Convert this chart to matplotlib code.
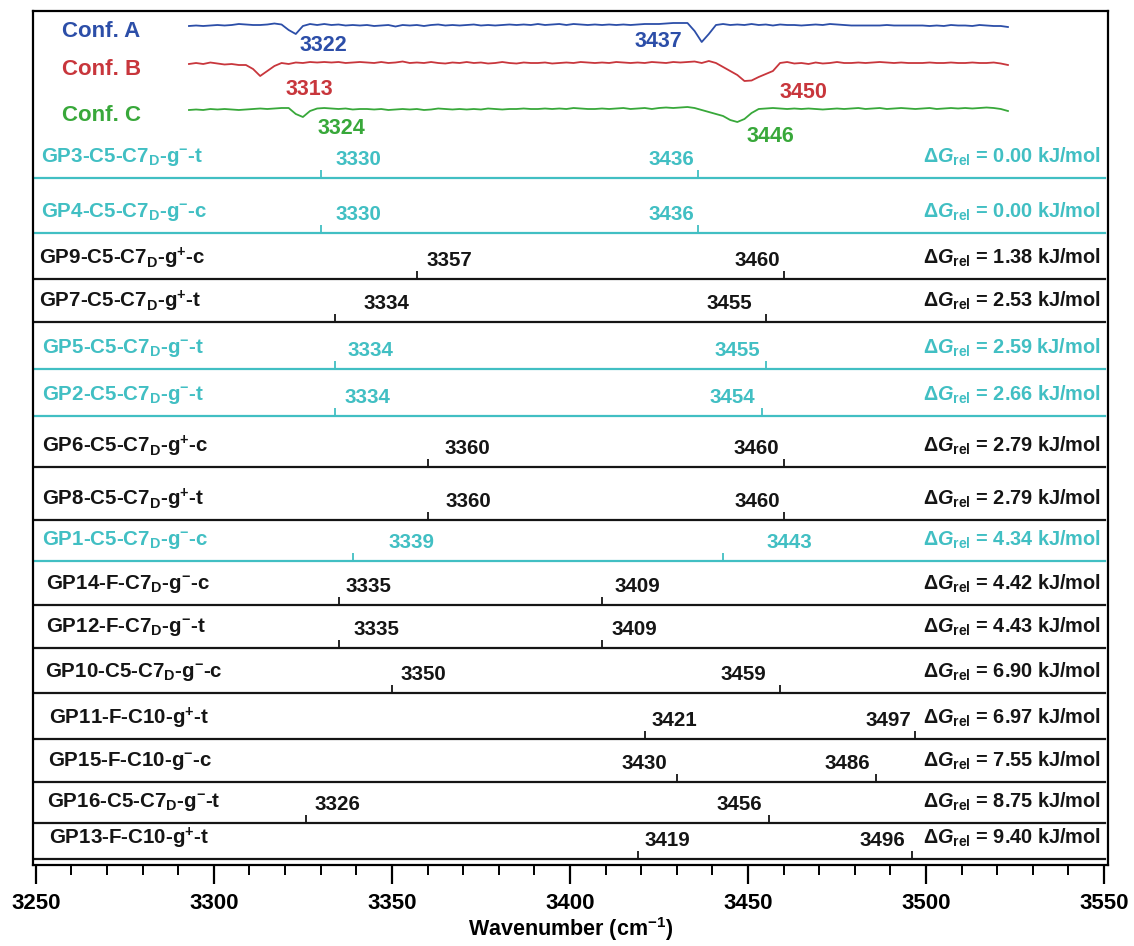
"""IR spectra of three conformers stacked over computed N-H stretch sticks for GP1-GP16."""
import matplotlib
matplotlib.use("Agg")
import matplotlib.pyplot as plt
import numpy as np
from matplotlib.ticker import MultipleLocator
from matplotlib.transforms import blended_transform_factory

plt.rcParams["font.family"] = ["Liberation Sans", "DejaVu Sans"]
plt.rcParams["font.weight"] = "bold"
plt.rcParams["mathtext.fontset"] = "custom"
plt.rcParams["mathtext.rm"] = "Liberation Sans:bold"
plt.rcParams["mathtext.it"] = "Liberation Sans:italic:bold"
plt.rcParams["mathtext.bf"] = "Liberation Sans:bold"
plt.rcParams["mathtext.sf"] = "Liberation Sans"
plt.rcParams["mathtext.default"] = "rm"

BLUE = "#2c4ea8"
RED = "#c8363c"
GREEN = "#38a83a"
CYAN = "#41bfc3"
BLACK = "#151515"

# ---- experimental spectra (depletion, arbitrary units, 2 cm-1 grid) ----
SPEC_WN = np.arange(3293, 3524, 2)
SPEC_A = [
    0, 0.5, 0, 0.5, 1, 0.5, 1, 2, 1.5, 1,
    1, 1.5, 2.5, 1.5, -4, -8, 0, 2, 1, 2,
    1, 1.5, 0.5, 1, 0.5, 1, 0, 0.5, 1, -0.5,
    1, 0.5, 1, 0, 1, 1.5, 0.5, 1, 0.5, 1,
    1.5, 0.5, 1, 0.5, 1, 1.5, 1, 1.5, 1, 2,
    1, 1.5, 2, 1, 2, 1.5, 1, 1.5, 1, 1.5,
    1, 1.5, 1, 1.5, 2, 2, 2, 2.5, 3, 3,
    3, -5, -16, -8, 1, 2, 1, 1.5, 1, 2,
    1, 1.5, 0.5, 1.5, 1, 1, 0.5, 1, 1.5, 1,
    2, 1.5, 1, 0.5, 0.5, 0.5, 0.5, 0.5, 1, 0.5,
    0.5, 0.5, 0.5, 0.5, 0, 0.5, 0, 1, 0.5, 0.5,
    0, 1, 0.5, 0, 0, -1,
]
SPEC_B = [
    0, 1, 0, 1.5, 0.5, -0.5, 0, -1, -1, -5,
    -12, -7, -2, 1, 0, 1.5, 1, 2, 1.5, 2,
    1.5, 2, 1, 1.5, 2, 1.5, 1, 2, 1, 1.5,
    2.5, 1, 1.5, 1, 2, 1, 0.5, 1.5, 1, 2,
    1, 1.5, 0.5, 1, 2, 1, 0.5, 1.5, 1, 1,
    1.5, 0.5, 1, 1.5, 1, 2, 1.5, 1, 1.5, 1,
    2, 1.5, 1, 1.5, 1, 2, 1.5, 1, 2, 1.5,
    2, 2.5, 1, 3, 1, -3, -7, -11, -17, -16.5,
    -13, -10, -7, 1, 2, 0.5, 1, 0, 1.5, 0.5,
    1, 2, 1, 1, 1.5, 1, 1.5, 2, 1.5, 1,
    1.5, 1, 1, 1, 1.5, 1, 1, 1.5, 1, 1,
    1.5, 1, 1, 1.5, 0.5, -1,
]
SPEC_C = [
    0, 0.5, 0, 1, 0.5, 1, 0.5, 0, 0.5, 1,
    1.5, 1, 1.5, 2, 2, -4, -7, -1, 1.5, 2,
    1.5, 1, 1.5, 0.5, 1, 1, 0.5, 1, 0, 0.5,
    1, 0.5, 1, 0, 0.5, 1.5, 1, 0.5, 1, 0.5,
    1, 0.5, 1.5, 1, 0.5, 1, 1, 1.5, 1, 1,
    1.5, 1, 1.5, 1, 2, 1.5, 1, 1, 1.5, 1,
    1.5, 2, 1, 1.5, 2, 1, 2, 2.5, 2, 2.5,
    3, 2, 0, -2, -4, -6, -10, -12, -9, -3,
    1, 1.5, 2, 1.5, 1, 1.5, 1, 1.5, 1, 0.5,
    1, 1.5, 1, 1.5, 2, 1, 1.5, 2, 1, 1.5,
    2, 1.5, 1, 1.5, 2, 1, 1.5, 2, 1.5, 2,
    1.5, 2, 2.5, 2, 1, -1,
]
CONF_NAMES = ["Conf. A", "Conf. B", "Conf. C"]
CONF_PEAKS = [[3322, 3437], [3313, 3450], [3324, 3446]]
CONF_COLORS = [BLUE, RED, GREEN]

# ---- computed conformers (sorted by relative free energy) ----
ROW_NAMES = [
    r"GP3-C5-C7$_\mathrm{D}$-g$^{-}$-t",
    r"GP4-C5-C7$_\mathrm{D}$-g$^{-}$-c",
    r"GP9-C5-C7$_\mathrm{D}$-g$^{+}$-c",
    r"GP7-C5-C7$_\mathrm{D}$-g$^{+}$-t",
    r"GP5-C5-C7$_\mathrm{D}$-g$^{-}$-t",
    r"GP2-C5-C7$_\mathrm{D}$-g$^{-}$-t",
    r"GP6-C5-C7$_\mathrm{D}$-g$^{+}$-c",
    r"GP8-C5-C7$_\mathrm{D}$-g$^{+}$-t",
    r"GP1-C5-C7$_\mathrm{D}$-g$^{-}$-c",
    r"GP14-F-C7$_\mathrm{D}$-g$^{-}$-c",
    r"GP12-F-C7$_\mathrm{D}$-g$^{-}$-t",
    r"GP10-C5-C7$_\mathrm{D}$-g$^{-}$-c",
    r"GP11-F-C10-g$^{+}$-t",
    r"GP15-F-C10-g$^{-}$-c",
    r"GP16-C5-C7$_\mathrm{D}$-g$^{-}$-t",
    r"GP13-F-C10-g$^{+}$-t",
]
ROW_PEAKS = [
    (3330, 3436), (3330, 3436), (3357, 3460), (3334, 3455),
    (3334, 3455), (3334, 3454), (3360, 3460), (3360, 3460),
    (3339, 3443), (3335, 3409), (3335, 3409), (3350, 3459),
    (3421, 3497), (3430, 3486), (3326, 3456), (3419, 3496),
]
ROW_DG = [0.00, 0.00, 1.38, 2.53, 2.59, 2.66, 2.79, 2.79,
          4.34, 4.42, 4.43, 6.90, 6.97, 7.55, 8.75, 9.40]
ROW_HIGHLIGHT = [True, True, False, False, True, True, False, False,
                 True, False, False, False, False, False, False, False]

# layout (pixels from top of the frame) and label offsets (pixels)
FRAME_TOP, FRAME_BOTTOM = 11, 865
CONF_BASE = [26, 64, 110]
CONF_LABEL_OFF = [[(7, -19), (-19, -15)], [(25, -25), (32, -28)], [(18, -18), (13, -26)]]
ROW_BASE = [178, 233, 279, 322, 369, 416, 467, 520,
            561, 605, 648, 693, 739, 782, 823, 859]
ROW_LABEL_INDENT = [0.007, 0.007, 0.006, 0.006, 0.008, 0.008, 0.008, 0.008,
                    0.008, 0.012, 0.012, 0.011, 0.015, 0.014, 0.013, 0.015]
ROW_LABEL_GAP = [
    (15, -4), (15, -4), (10, -3), (29, -14), (13, -6), (10, -7), (17, -4), (18, -3),
    (36, 43), (7, 12), (15, 9), (9, -14), (7, -4), (-10, -6), (8, -7), (7, -7),
]

fig = plt.figure(figsize=(11.34, 9.46), dpi=100)
ax = fig.add_axes([33 / 1134, 1 - FRAME_BOTTOM / 946, 1075 / 1134,
                   (FRAME_BOTTOM - FRAME_TOP) / 946])
ax.set_xlim(3249.2, 3551.1)
ax.set_ylim(FRAME_BOTTOM, FRAME_TOP)
axy = blended_transform_factory(ax.transAxes, ax.transData)

# experimental traces
for name, spec, peaks, base, offs, col in zip(CONF_NAMES, [SPEC_A, SPEC_B, SPEC_C],
                                             CONF_PEAKS, CONF_BASE, CONF_LABEL_OFF,
                                             CONF_COLORS):
    ax.plot(SPEC_WN, base - np.asarray(spec), color=col, lw=1.3)
    ax.text(0.027, base + 5, name, transform=axy, color=col, fontsize=16,
            ha="left", va="center")
    for pk, (dx, dy) in zip(peaks, offs):
        ax.annotate(str(pk), xy=(pk, base), xytext=(dx, dy),
                    textcoords="offset pixels", color=col, fontsize=15.5,
                    ha="left" if dx > 0 else "right", va="center")

# computed stick spectra
for name, peaks, dg, hl, base, indent, gaps in zip(ROW_NAMES, ROW_PEAKS, ROW_DG,
                                                   ROW_HIGHLIGHT, ROW_BASE,
                                                   ROW_LABEL_INDENT, ROW_LABEL_GAP):
    col = CYAN if hl else BLACK
    ax.axhline(base, xmin=0.002, xmax=0.997, color=col, lw=1.6)
    ax.text(indent, base - 21, name, transform=axy, color=col, fontsize=14.8,
            ha="left", va="center")
    ax.text(0.993, base - 21,
            r"$\mathsf{Δ}\mathit{G}_{\mathsf{rel}}$ = %.2f kJ/mol" % dg,
            transform=axy, color=col, fontsize=14.3, ha="right", va="center")
    for pk, gap in zip(peaks, gaps):
        ax.vlines(pk, base - 8, base, color=col, lw=1.3)
        ax.annotate(str(pk), xy=(pk, base), xytext=(gap, 19),
                    textcoords="offset pixels", color=col, fontsize=14.8,
                    ha="left" if gap > 0 else "right", va="center")

ax.set_yticks([])
ax.xaxis.set_major_locator(MultipleLocator(50))
ax.xaxis.set_minor_locator(MultipleLocator(10))
ax.tick_params(axis="x", which="major", direction="out", length=14, width=1.6,
               labelsize=16, pad=6)
ax.tick_params(axis="x", which="minor", direction="out", length=7, width=1.4)
for lbl in ax.get_xticklabels():
    lbl.set_fontweight("bold")
for sp in ax.spines.values():
    sp.set_linewidth(1.6)
ax.set_xlabel(r"Wavenumber (cm$^{-1}$)", fontsize=15.5, fontweight="bold", labelpad=1)

fig.savefig("out.png", dpi=100)
